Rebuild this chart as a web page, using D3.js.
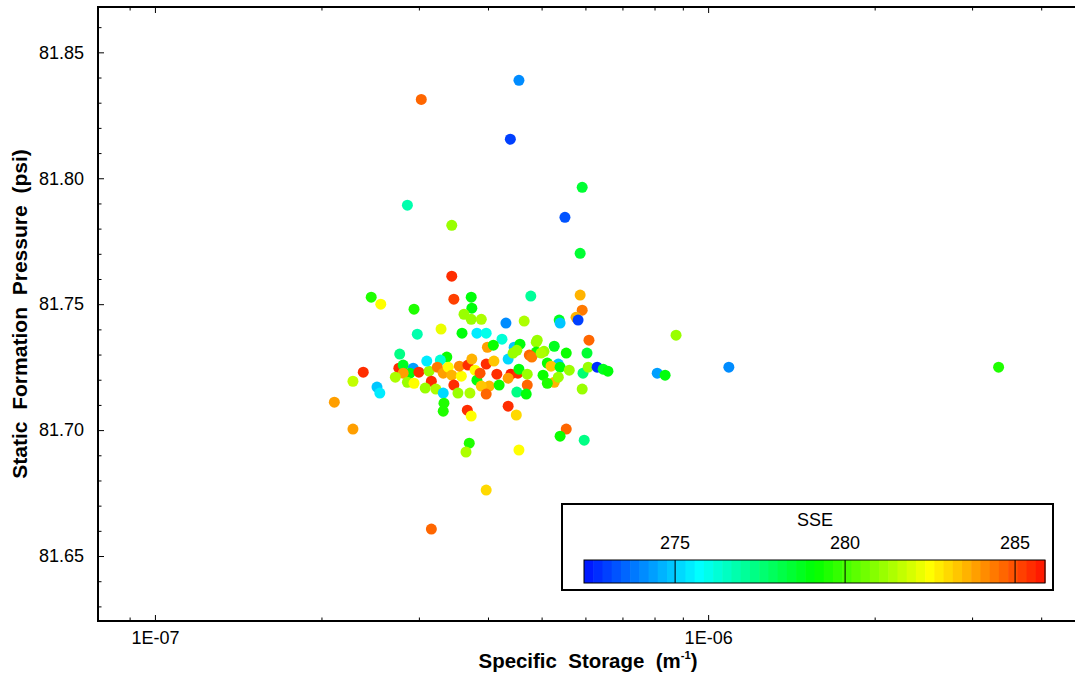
<!DOCTYPE html>
<html><head><meta charset="utf-8">
<script src="https://cdn.jsdelivr.net/npm/d3@7"></script>
<style>
body{margin:0;background:#fff}
svg{display:block}
text{font-family:"Liberation Sans",Arial,sans-serif;fill:#000}
</style>
</head><body>
<svg id="c" width="1075" height="675"></svg>
<script>
// Specific storage (1/m)
const storage=[3.03e-7,4.55e-7,4.39e-7,5.92e-7,2.86e-7,5.51e-7,3.44e-7,5.87e-7,3.44e-7,2.46e-7,
2.56e-7,3.47e-7,3.73e-7,4.78e-7,5.87e-7,3.74e-7,2.94e-7,5.92e-7,3.62e-7,3.73e-7,
3.89e-7,4.31e-7,4.65e-7,5.38e-7,5.40e-7,5.77e-7,5.82e-7,2.98e-7,3.29e-7,3.59e-7,
3.82e-7,3.97e-7,4.24e-7,4.91e-7,6.09e-7,3.99e-7,4.09e-7,4.46e-7,4.57e-7,4.51e-7,
4.89e-7,5.27e-7,5.05e-7,4.89e-7,4.75e-7,4.80e-7,5.54e-7,6.04e-7,2.77e-7,3.37e-7,
5.12e-7,5.36e-7,5.20e-7,5.40e-7,5.61e-7,5.03e-7,5.27e-7,5.36e-7,5.12e-7,5.94e-7,
6.07e-7,6.30e-7,6.46e-7,6.59e-7,5.92e-7,2.38e-7,2.28e-7,2.52e-7,2.55e-7,2.11e-7,
2.28e-7,2.76e-7,2.81e-7,2.93e-7,2.89e-7,2.81e-7,2.72e-7,2.86e-7,2.94e-7,3.00e-7,
3.13e-7,3.10e-7,3.28e-7,3.24e-7,3.32e-7,3.39e-7,3.44e-7,3.16e-7,3.08e-7,3.22e-7,
3.32e-7,3.58e-7,3.55e-7,3.68e-7,3.74e-7,3.79e-7,3.47e-7,3.53e-7,3.71e-7,3.33e-7,
3.32e-7,3.67e-7,3.73e-7,3.82e-7,3.97e-7,3.87e-7,4.10e-7,4.15e-7,4.35e-7,4.44e-7,
4.02e-7,3.89e-7,4.19e-7,3.97e-7,4.40e-7,4.53e-7,4.55e-7,4.71e-7,4.35e-7,4.71e-7,
4.51e-7,4.69e-7,4.35e-7,4.50e-7,4.99e-7,5.54e-7,5.40e-7,5.97e-7,3.70e-7,3.65e-7,
4.55e-7,3.97e-7,3.16e-7,8.09e-7,8.36e-7,8.75e-7,1.09e-6,3.35e-6];
// Static formation pressure (psi)
const pressure=[81.8313,81.8389,81.8155,81.7964,81.7893,81.7845,81.7813,81.7702,81.7611,81.7528,
81.7500,81.7520,81.7528,81.7532,81.7536,81.7484,81.7480,81.7476,81.7460,81.7440,
81.7440,81.7425,81.7433,81.7437,81.7425,81.7448,81.7437,81.7381,81.7401,81.7385,
81.7385,81.7385,81.7361,81.7357,81.7357,81.7329,81.7337,81.7329,81.7341,81.7317,
81.7349,81.7333,81.7313,81.7310,81.7298,81.7290,81.7306,81.7306,81.7302,81.7290,
81.7266,81.7262,81.7254,81.7250,81.7238,81.7218,81.7190,81.7210,81.7186,81.7226,
81.7250,81.7250,81.7242,81.7234,81.7163,81.7230,81.7194,81.7171,81.7147,81.7111,
81.7004,81.7246,81.7258,81.7246,81.7226,81.7226,81.7210,81.7190,81.7186,81.7230,
81.7234,81.7274,81.7278,81.7250,81.7226,81.7250,81.7218,81.7194,81.7167,81.7163,
81.7147,81.7214,81.7254,81.7258,81.7282,81.7238,81.7179,81.7147,81.7147,81.7107,
81.7075,81.7079,81.7056,81.7198,81.7262,81.7226,81.7274,81.7222,81.7282,81.7306,
81.7175,81.7175,81.7179,81.7143,81.7222,81.7226,81.7242,81.7222,81.7206,81.7179,
81.7151,81.7143,81.7095,81.7060,81.7306,81.7004,81.6976,81.6960,81.6948,81.6913,
81.6921,81.6762,81.6607,81.7226,81.7218,81.7377,81.7250,81.7250];
// SSE
const sse=[284.6,274.2,273.0,278.4,276.8,273.4,281.1,278.5,285.5,279.5,
282.4,285.2,278.9,277.0,283.5,279.0,279.4,284.5,281.1,281.2,
281.3,274.1,281.3,278.8,275.0,283.6,272.9,276.9,282.2,278.9,
275.4,276.1,276.2,281.0,284.6,283.9,279.2,274.8,278.9,281.0,
281.1,278.6,281.0,279.3,284.6,284.4,279.1,278.3,277.3,279.2,
279.2,274.9,283.3,279.0,281.0,279.3,283.7,281.2,279.4,277.5,
281.0,272.8,278.6,278.9,281.0,285.5,281.8,274.9,275.5,283.9,
283.9,285.6,278.7,274.3,279.0,283.8,281.3,281.0,282.4,285.6,
281.2,275.4,276.3,284.5,283.8,282.5,283.7,285.6,281.1,281.3,
275.2,282.5,284.0,285.5,283.5,282.6,285.6,281.2,281.4,279.5,
279.6,285.5,282.6,279.0,285.6,284.8,283.2,285.6,275.3,281.2,
283.6,283.4,279.3,284.7,285.7,285.6,279.0,281.0,283.8,284.6,
277.3,279.0,285.5,283.0,281.3,284.6,279.1,277.4,279.6,281.3,
282.5,283.1,284.7,274.3,279.0,281.0,274.2,279.5];

const yTickValues=[81.65,81.70,81.75,81.80,81.85];
const yMinorValues=[81.63,81.64,81.66,81.67,81.68,81.69,81.71,81.72,81.73,81.74,81.76,81.77,81.78,81.79,81.81,81.82,81.83,81.84,81.86];
const xTickValues=[1e-7,1e-6];
const xTickLabels=["1E-07","1E-06"];
const xMinorValues=[9e-8,2e-7,3e-7,4e-7,5e-7,6e-7,7e-7,8e-7,9e-7,2e-6,3e-6,4e-6];
const legendTickValues=[275,280,285];
const sseRange=[272.32,285.88];
const xExtent=[7.89e-8,4.8e-6];
const yExtent=[81.6242,81.868];

const svg=d3.select("#c");
const L=98,R=1085,T=7,B=621;
const x=d3.scaleLog().domain(xExtent).range([L,R]);
const y=d3.scaleLinear().domain(yExtent).range([B,T]);

const nb=50;
const rainbow=d3.scaleLinear().domain([0,0.25,0.5,0.75,1])
  .range(["#0010ff","#00ffff","#00ff00","#ffff00","#ff1000"]).interpolate(d3.interpolateRgb);
const tOf=d3.scaleLinear().domain(sseRange).range([0,1]).clamp(true);
const color=v=>{const k=Math.min(nb-1,Math.floor(tOf(v)*nb));return rainbow((k+0.5)/nb);};

function styleAxis(g){g.select(".domain").remove();g.selectAll(".tick line").attr("stroke","#000").attr("stroke-width",1);g.selectAll("text").attr("font-size",18).attr("font-family",'"Liberation Sans",Arial,sans-serif');}
svg.append("g").attr("transform",`translate(${L},0)`).call(d3.axisLeft(y).tickValues(yTickValues).tickSize(-6).tickPadding(14).tickFormat(d3.format(".2f"))).call(styleAxis);
svg.append("g").attr("transform",`translate(${L},0)`).call(d3.axisLeft(y).tickValues(yMinorValues).tickSize(-3.5).tickFormat("")).call(styleAxis);
svg.append("g").attr("transform",`translate(0,${B})`).call(d3.axisBottom(x).tickValues(xTickValues).tickSize(-6).tickPadding(10).tickFormat((d,i)=>xTickLabels[i])).call(styleAxis);
svg.append("g").attr("transform",`translate(0,${B})`).call(d3.axisBottom(x).tickValues(xMinorValues).tickSize(-3.5).tickFormat("")).call(styleAxis);
svg.append("g").attr("transform",`translate(0,${T})`).call(d3.axisTop(x).tickValues(xTickValues).tickSize(-6).tickFormat("")).call(styleAxis);
svg.append("g").attr("transform",`translate(0,${T})`).call(d3.axisTop(x).tickValues(xMinorValues).tickSize(-3.5).tickFormat("")).call(styleAxis);

svg.append("path").attr("d",`M${R},${T}H${L}V${B}H${R}`).attr("fill","none").attr("stroke","#000").attr("stroke-width",2);

svg.append("g").selectAll("circle").data(d3.range(storage.length)).join("circle")
  .attr("cx",i=>x(storage[i])).attr("cy",i=>y(pressure[i])).attr("r",5.5)
  .attr("fill",i=>color(sse[i]));

function fitText(sel,w){const n=sel.node().getComputedTextLength();return w/n;}
const yt=svg.append("text").attr("font-weight","bold").attr("font-size",20).attr("text-anchor","middle").style("white-space","pre")
  .text("Static  Formation  Pressure  (psi)");
const syt=fitText(yt,330);
yt.attr("transform",`translate(27,314) rotate(-90) scale(${syt},1)`);

const xt=svg.append("text").attr("font-weight","bold").attr("font-size",20).attr("text-anchor","middle").style("white-space","pre");
xt.append("tspan").text("Specific  Storage  (m");
xt.append("tspan").attr("font-size",11).attr("dy",-9).text("-1");
xt.append("tspan").attr("dy",9).text(")");
const sxt=fitText(xt,219);
xt.attr("transform",`translate(588,668) scale(${sxt},1)`);

const lg=svg.append("g");
lg.append("rect").attr("x",562).attr("y",504).attr("width",491).attr("height",86).attr("fill","#fff").attr("stroke","#000").attr("stroke-width",2);
lg.append("text").attr("x",815).attr("y",526).attr("text-anchor","middle").attr("font-size",18).text("SSE");
const lx=d3.scaleLinear().domain(sseRange).range([584,1045]);
const bandW=(sseRange[1]-sseRange[0])/nb;
lg.selectAll("rect.band").data(d3.range(nb)).join("rect").attr("class","band")
  .attr("x",k=>lx(sseRange[0]+k*bandW)).attr("width",k=>lx(sseRange[0]+(k+1)*bandW)-lx(sseRange[0]+k*bandW)+0.6)
  .attr("y",560).attr("height",23).attr("fill",k=>rainbow((k+0.5)/nb));
lg.append("rect").attr("x",584).attr("y",560).attr("width",461).attr("height",23).attr("fill","none").attr("stroke","#000").attr("stroke-width",1);
lg.selectAll("line.lt").data(legendTickValues).join("line").attr("class","lt")
  .attr("x1",d=>lx(d)).attr("x2",d=>lx(d)).attr("y1",560).attr("y2",583).attr("stroke","#000").attr("stroke-width",1);
lg.selectAll("text.ll").data(legendTickValues).join("text").attr("class","ll")
  .attr("x",d=>lx(d)).attr("y",549).attr("text-anchor","middle").attr("font-size",18).text(d=>d);
</script>
</body></html>
